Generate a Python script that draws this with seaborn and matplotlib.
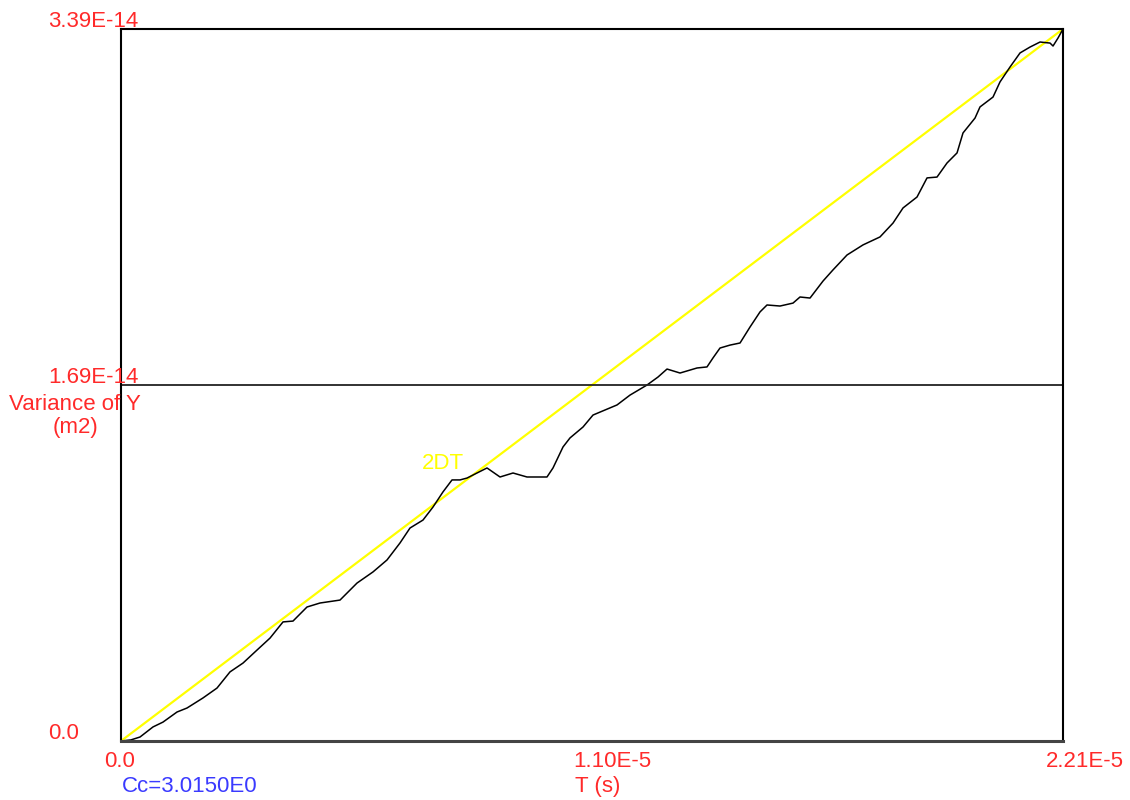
import matplotlib
matplotlib.use("Agg")
from matplotlib import pyplot as plt
import numpy as np
import pandas as pd
import seaborn as sb

# values (time in microseconds, variance in 1e-15 m2)
t_us = [0.0, 0.23, 0.446, 0.751, 0.985, 1.314, 1.548, 1.924, 2.252, 2.557, 2.862,
        3.191, 3.496, 3.801, 4.035, 4.364, 4.669, 5.138, 5.537, 5.912, 6.241,
        6.546, 6.78, 7.085, 7.32, 7.554, 7.766, 7.953, 8.118, 8.352, 8.587,
        8.892, 9.197, 9.525, 9.994, 10.135, 10.37, 10.534, 10.839, 11.074,
        11.238, 11.637, 11.942, 12.341, 12.599, 12.81, 13.115, 13.514, 13.748,
        13.889, 14.053, 14.288, 14.523, 14.757, 14.992, 15.156, 15.461, 15.766,
        15.93, 16.165, 16.47, 16.704, 17.033, 17.408, 17.807, 18.112, 18.347,
        18.675, 18.91, 19.144, 19.379, 19.614, 19.754, 20.036, 20.153, 20.458,
        20.622, 20.857, 21.092, 21.326, 21.561, 21.796, 21.866, 21.983, 22.1]
var_e15 = [0.0, 0.05, 0.19, 0.67, 0.9, 1.38, 1.57, 2.05, 2.52, 3.29, 3.71,
           4.33, 4.9, 5.67, 5.71, 6.38, 6.57, 6.71, 7.52, 8.05, 8.62,
           9.43, 10.14, 10.52, 11.14, 11.86, 12.43, 12.43, 12.52, 12.76, 13.0,
           12.57, 12.76, 12.57, 12.57, 13.0, 14.0, 14.43, 14.95, 15.52,
           15.66, 16.0, 16.47, 16.95, 17.33, 17.71, 17.52, 17.76, 17.81,
           18.24, 18.71, 18.85, 18.95, 19.71, 20.43, 20.76, 20.71, 20.85,
           21.14, 21.09, 21.9, 22.43, 23.14, 23.62, 24.0, 24.66, 25.38,
           25.9, 26.81, 26.85, 27.52, 28.0, 28.95, 29.66, 30.19, 30.66,
           31.38, 32.09, 32.76, 33.04, 33.28, 33.23, 33.09, 33.47, 33.9]

fit_t = [0.0, 22.1]
fit_v = [0.0, 33.9]

x_max = 2.21e-5
y_max = 3.39e-14
y_mid = 1.695e-14
x_ticks = [0.0, 1.10e-5, 2.21e-5]
x_tick_labels = ["0.0", "1.10E-5", "2.21E-5"]
y_ticks = [0.0, y_mid, y_max]
y_tick_labels = ["0.0", "1.69E-14", "3.39E-14"]

data = pd.DataFrame({"T": np.array(t_us) * 1e-6, "V": np.array(var_e15) * 1e-15})
fit = pd.DataFrame({"T": np.array(fit_t) * 1e-6, "V": np.array(fit_v) * 1e-15})

sb.set_style("white")
plt.rcParams["font.family"] = ["Liberation Sans", "DejaVu Sans"]

red = "#ff2a2a"
fsize = 16
fig = plt.figure(figsize=(11.3, 8), dpi=100)
ax = fig.add_axes([121 / 1130, 59 / 800, 942 / 1130, 712 / 800])

sb.lineplot(data=fit, x="T", y="V", ax=ax, color="#ffff00", linewidth=1.6)
sb.lineplot(data=data, x="T", y="V", ax=ax, color="black", linewidth=1.1)
ax.axhline(y_mid, color="#222222", linewidth=1.3)

ax.set_xlim(0, x_max)
ax.set_ylim(0, y_max)
ax.set_xticks([])
ax.set_yticks([])
ax.set_xlabel("")
ax.set_ylabel("")
for s in ["left", "top", "right"]:
    ax.spines[s].set_color("black")
    ax.spines[s].set_linewidth(1.5)
ax.spines["bottom"].set_color("#444444")
ax.spines["bottom"].set_linewidth(2.2)

# y tick labels, left aligned in the margin, sitting on their lines
for v, lab in zip(y_ticks, y_tick_labels):
    ax.annotate(lab, xy=(48 / 1130, v), xycoords=("figure fraction", "data"),
                ha="left", va="baseline", fontsize=fsize, color=red,
                xytext=(0, 2), textcoords="offset pixels", annotation_clip=False)

ax.annotate("Variance of Y\n(m2)", xy=(75 / 1130, 1 - 394 / 800),
            xycoords="figure fraction", ha="center", va="top",
            multialignment="center", fontsize=fsize, color=red, linespacing=1.1)

# x tick labels
for v, lab in zip(x_ticks, x_tick_labels):
    ax.annotate(lab, xy=(v, 0), xycoords=("data", "axes fraction"),
                xytext=(-17, -10), textcoords="offset pixels",
                ha="left", va="top", fontsize=fsize, color=red, annotation_clip=False)

ax.annotate("T (s)", xy=(575 / 1130, 1 - 776 / 800), xycoords="figure fraction",
            ha="left", va="top", fontsize=fsize, color=red)
ax.annotate("Cc=3.0150E0", xy=(122 / 1130, 1 - 776 / 800), xycoords="figure fraction",
            ha="left", va="top", fontsize=fsize, color="#3a3aff")
ax.text(7.55e-6, 1.27e-14, "2DT", color="#ffff00", fontsize=fsize,
        ha="center", va="bottom")

fig.savefig("out.png", dpi=100)
